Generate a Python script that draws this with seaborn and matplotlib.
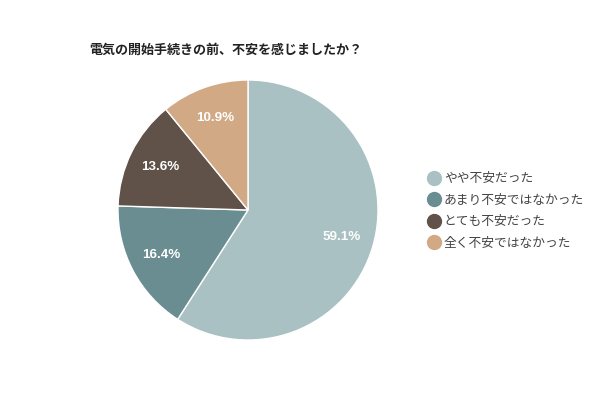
import matplotlib
matplotlib.use("Agg")
import matplotlib.pyplot as plt
import seaborn as sns
from matplotlib.lines import Line2D

categories = ["やや不安だった", "あまり不安ではなかった", "とても不安だった", "全く不安ではなかった"]
values = [59.1, 16.4, 13.6, 10.9]
colors = ["#a9c1c2", "#6a8d92", "#605249", "#d1a984"]
title = "電気の開始手続きの前、不安を感じましたか？"

sns.set_theme(style="white")
plt.rcParams['font.family'] = ['Noto Sans CJK JP', 'DejaVu Sans']

fig = plt.figure(figsize=(6, 4), dpi=100)
ax = fig.add_axes([248/600 - 130/600, (400-210)/400 - 130/400, 260/600, 260/400])
wedges, texts, autotexts = ax.pie(
    values, colors=colors, startangle=90, counterclock=False,
    autopct=lambda p: f"{p:.1f}%", pctdistance=0.75,
    wedgeprops=dict(edgecolor="white", linewidth=1.0),
    textprops=dict(color="white", fontsize=9.6, family=['Liberation Sans', 'DejaVu Sans'], fontweight='bold'),
)
ax.set_xlim(-1, 1)
ax.set_ylim(-1, 1)
ax.set_aspect('equal')

fig.text(89/600, 1 - 50/400, title, fontsize=9.4, fontweight='bold', color="#222222", va='center', ha='left')

handles = [Line2D([0], [0], marker='o', linestyle='', markersize=10, markerfacecolor=c, markeredgecolor=c) for c in colors]
leg = fig.legend(handles, categories, loc='center left', bbox_to_anchor=(415/600, 1 - 211/400),
                 frameon=False, fontsize=9.2, handletextpad=0.15, labelspacing=0.66, handlelength=1.2)
for t in leg.get_texts():
    t.set_color("#444444")

fig.savefig("out.png", dpi=100)
